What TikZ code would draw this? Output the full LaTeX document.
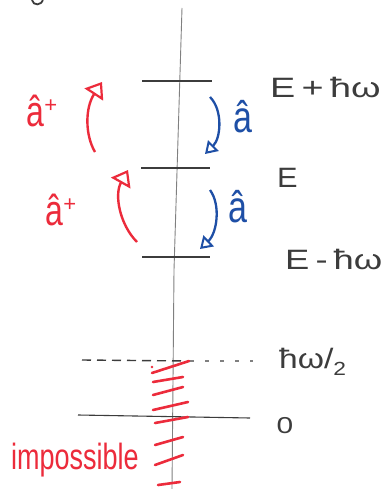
\documentclass[tikz,border=0pt]{standalone}
\usepackage{graphicx}
\usepackage{fontspec}
\setmainfont{Liberation Sans}
\usetikzlibrary{arrows.meta}
\definecolor{ink}{HTML}{3C3C3C}
\definecolor{axisgray}{HTML}{808080}
\definecolor{pred}{HTML}{EC2B3B}
\definecolor{pblue}{HTML}{1E4FA6}
\begin{document}
\begin{tikzpicture}[x=1pt,y=-1pt,
  level/.style={ink,line width=1.5pt},
  lbl/.style={ink,inner sep=0pt,font=\fontsize{28}{30}\selectfont},
  redop/.style={pred,inner sep=0pt,font=\fontsize{32}{34}\selectfont},
  blueop/.style={pblue,inner sep=0pt,font=\fontsize{34}{36}\selectfont},
  uparrow/.style={pred,line width=2.4pt,-{Triangle[open,length=15pt,width=22pt,line width=2.2pt]}},
  downarrow/.style={pblue,line width=2.3pt,-{Triangle[open,length=12pt,width=15pt,line width=2pt]}},
  hatch/.style={pred,line width=2.6pt,line cap=round}]
\useasboundingbox (0,0) rectangle (390,489);
\fill[white] (0,0) rectangle (390,489);
% fragment of a stroke at the top edge
\draw[ink,line width=1.8pt,line cap=round] (32,0) .. controls (33,6) and (42,6) .. (43,-1);
% axis
\coordinate (axtop) at (182,8);
\coordinate (axmid) at (174,270);
\coordinate (axbot) at (172,489);
\draw[axisgray,line width=0.9pt] (axtop) -- (axmid) -- (axbot);
% levels
\coordinate (l1a) at (142,81);  \coordinate (l1b) at (212,81);
\coordinate (l2a) at (141,168); \coordinate (l2b) at (210,168);
\coordinate (l3a) at (142,257); \coordinate (l3b) at (210,257);
\draw[level] (l1a) -- (l1b);
\draw[level] (l2a) -- (l2b);
\draw[level] (l3a) -- (l3b);
% half-quantum dashed line
\coordinate (h0) at (82,360); \coordinate (h1) at (190,361); \coordinate (h2) at (253,361);
\draw[ink,line width=1.4pt,dash pattern=on 9pt off 6pt] (h0) -- (h1);
\draw[axisgray,line width=1.2pt,dash pattern=on 4pt off 11pt] (h1) -- (h2);
% zero line
\coordinate (z0) at (78,415); \coordinate (z1) at (250,418);
\draw[ink,line width=1.1pt] (z0) -- (z1);
% labels
\node[lbl,anchor=west] (Eplus) at (270,87) {\scalebox{1.35}[1]{E\,+\,ħω}};
\node[lbl,anchor=west] (E) at (277,178) {\scalebox{1.1}[1]{E}};
\node[lbl,anchor=west] (Eminus) at (285,259) {\scalebox{1.3}[1]{E\,-\,ħω}};
\node[lbl,anchor=west] (half) at (279,362) {\scalebox{1.2}[1]{ħω/\raisebox{-7pt}{\fontsize{19}{20}\selectfont 2}}};
\node[ink,inner sep=0pt,font=\fontsize{23}{24}\selectfont] (zero) at (285,426) {\scalebox{1.3}[1]{0}};
% operators
\node[redop] (ad1) at (42,111) {\scalebox{1}[1.35]{â}\raisebox{14pt}{\fontsize{22}{24}\selectfont +}};
\node[redop] (ad2) at (61,210) {\scalebox{1}[1.35]{â}\raisebox{14pt}{\fontsize{22}{24}\selectfont +}};
\node[blueop] (a1) at (243,117) {\scalebox{1}[1.3]{â}};
\node[blueop] (a2) at (238,207) {\scalebox{1}[1.3]{â}};
% arrows
\coordinate (r1s) at (95,152); \coordinate (r1e) at (102,82);
\coordinate (r2s) at (137,242); \coordinate (r2e) at (128,170);
\coordinate (b1s) at (210,97);  \coordinate (b1e) at (205,154);
\coordinate (b2s) at (210,190); \coordinate (b2e) at (200,249);
\draw[uparrow] (r1s) .. controls (85,135) and (85,108) .. (r1e);
\draw[uparrow] (r2s) .. controls (120,225) and (114,195) .. (r2e);
\draw[downarrow] (b1s) .. controls (223,110) and (221,138) .. (b1e);
\draw[downarrow] (b2s) .. controls (221,205) and (217,233) .. (b2e);
% impossible region
\fill[pred] (152,367) circle (1.4pt);
\foreach \xa/\ya/\xb/\yb in {152/373/189/361, 153/382/183/377, 153/395/183/387,
  153/410/188/402, 155/423/188/417, 155/445/183/437, 155/465/183/455, 158/485/180/482}
  \draw[hatch] (\xa,\ya) -- (\xb,\yb);
\node[pred,inner sep=0pt,font=\fontsize{27}{29}\selectfont] (imp) at (75,460) {\scalebox{1}[1.35]{impossible}};
\end{tikzpicture}
\end{document}
